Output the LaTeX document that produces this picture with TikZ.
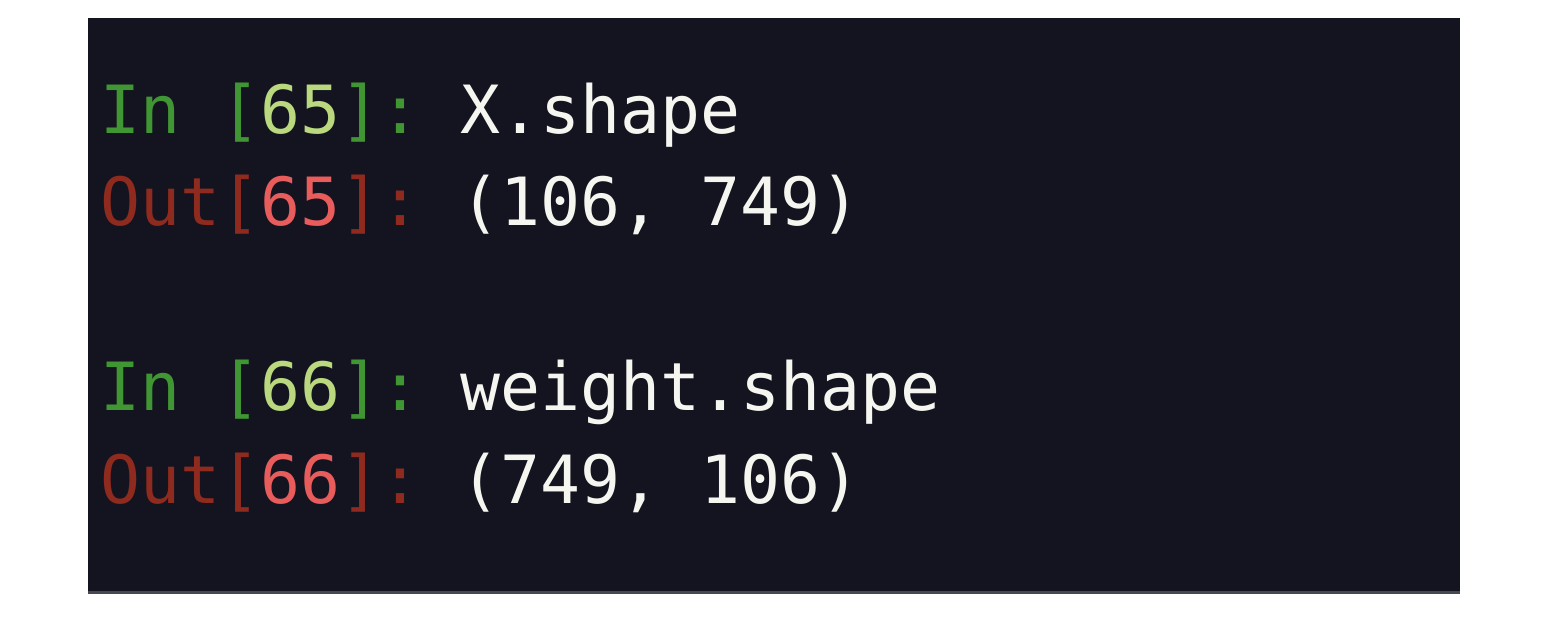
\documentclass[tikz,border=0pt]{standalone}
\usepackage{fontspec}
\usepackage{tikz}
\newfontfamily\termfont[RawFeature=+zero]{DejaVu Sans Mono}
\definecolor{termbg}{RGB}{19,20,32}
\definecolor{termedge}{RGB}{70,72,82}
\definecolor{ingreen}{RGB}{64,150,50}
\definecolor{innum}{RGB}{186,216,126}
\definecolor{outred}{RGB}{142,42,30}
\definecolor{outnum}{RGB}{232,92,92}
\definecolor{termtext}{RGB}{246,246,240}
\newcommand{\inprompt}[1]{\textcolor{ingreen}{In [}\textcolor{innum}{#1}\textcolor{ingreen}{]:}}
\newcommand{\outprompt}[1]{\textcolor{outred}{Out[}\textcolor{outnum}{#1}\textcolor{outred}{]:}}
\frenchspacing

\begin{document}
\begin{tikzpicture}[x=0.01cm,y=-0.01cm,
    line/.style={anchor=base west,inner sep=0pt,text=termtext,
      font=\termfont\fontsize{18.9}{22}\selectfont}]
    \useasboundingbox (0,0) rectangle (1566,620);
    \fill[termbg] (88,18) rectangle (1460,593);
    \draw[termedge,line width=0.6pt] (88,592.5) -- (1460,592.5);

    \node[line] (in1) at (100,133) {\inprompt{65} X.shape};
    \node[line] (out1) at (100,225) {\outprompt{65} (106, 749)};
    \node[line] (in2) at (100,410) {\inprompt{66} weight.shape};
    \node[line] (out2) at (100,503) {\outprompt{66} (749, 106)};
  \end{tikzpicture}
\end{document}
